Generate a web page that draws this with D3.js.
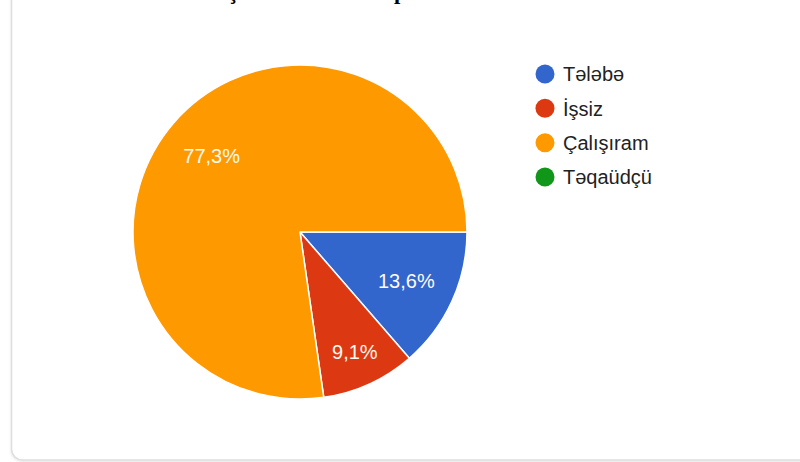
<!DOCTYPE html>
<html>
<head>
<meta charset="utf-8">
<script src="https://cdn.jsdelivr.net/npm/d3@7"></script>
<style>
  html, body { margin: 0; padding: 0; background: #ffffff; }
  svg { display: block; }
</style>
</head>
<body>
<svg id="chart" width="800" height="462"></svg>
<script>
// Response categories and their counts (22 responses in total)
const categories = ["Tələbə", "İşsiz", "Çalışıram", "Təqaüdçü"];
const counts = [3, 2, 17, 0];
const percentLabels = ["13,6%", "9,1%", "77,3%", "0%"];
const colors = ["#3366cc", "#dc3912", "#ff9900", "#109618"];
const titleText = "İş statusu üzrə respondentlər";

const svg = d3.select("#chart");

// Card panel behind the chart
const defs = svg.append("defs");
const shadow = defs.append("filter").attr("id", "cardShadow")
  .attr("x", "-5%").attr("y", "-5%").attr("width", "110%").attr("height", "110%");
shadow.append("feGaussianBlur").attr("in", "SourceAlpha").attr("stdDeviation", 1.2);
shadow.append("feOffset").attr("dx", 0).attr("dy", 0.5).attr("result", "blur");
shadow.append("feFlood").attr("flood-color", "#000").attr("flood-opacity", 0.12);
shadow.append("feComposite").attr("in2", "blur").attr("operator", "in");
const merge = shadow.append("feMerge");
merge.append("feMergeNode");
merge.append("feMergeNode").attr("in", "SourceGraphic");

svg.append("rect")
  .attr("x", 11.5).attr("y", -30)
  .attr("width", 830).attr("height", 490)
  .attr("rx", 11)
  .attr("fill", "#ffffff")
  .attr("stroke", "#dedede")
  .attr("stroke-width", 1.5)
  .attr("filter", "url(#cardShadow)");

// Heading sitting above the card, mostly outside the view
svg.append("text")
  .attr("x", 220).attr("y", -1.5)
  .attr("font-family", "'Liberation Serif', 'Times New Roman', serif")
  .attr("font-weight", "bold")
  .attr("font-size", 22.5)
  .attr("fill", "#000")
  .text(titleText);

// Pie
const cx = 300, cy = 232, R = 167;
const pie = d3.pie()
  .value(d => d)
  .sort(null)
  .startAngle(Math.PI / 2)
  .endAngle(Math.PI / 2 + 2 * Math.PI);
const arcs = pie(counts);
const arc = d3.arc().innerRadius(0).outerRadius(R);

const g = svg.append("g").attr("transform", `translate(${cx},${cy})`);
g.selectAll("path.slice")
  .data(arcs.filter(a => a.value > 0))
  .join("path")
  .attr("class", "slice")
  .attr("d", arc)
  .attr("fill", d => colors[d.index])
  .attr("stroke", "#ffffff")
  .attr("stroke-width", 1.5)
  .attr("stroke-linejoin", "round");

// Percentage labels inside the slices; narrow slices push the label outward
g.selectAll("text.pct")
  .data(arcs.filter(a => a.value > 0))
  .join("text")
  .attr("class", "pct")
  .attr("transform", d => {
    const span = d.endAngle - d.startAngle;
    const rr = span < 0.65 ? R * 0.79 : R * 0.7;
    const a = (d.startAngle + d.endAngle) / 2;
    return `translate(${rr * Math.sin(a)},${-rr * Math.cos(a)})`;
  })
  .attr("text-anchor", "middle")
  .attr("dy", "0.36em")
  .attr("font-family", "'Liberation Sans', Arial, sans-serif")
  .attr("font-size", 20)
  .attr("fill", "#fffaf0")
  .text(d => percentLabels[d.index]);

// Legend
const legendY = d3.scalePoint().domain(categories).range([74, 177]);
const legend = svg.append("g");
const items = legend.selectAll("g.item")
  .data(categories)
  .join("g")
  .attr("class", "item")
  .attr("transform", d => `translate(545,${legendY(d)})`);
items.append("circle")
  .attr("r", 9.5)
  .attr("fill", (d, i) => colors[i]);
items.append("text")
  .attr("x", 18)
  .attr("dy", "0.36em")
  .attr("font-family", "'Liberation Sans', Arial, sans-serif")
  .attr("font-size", 20)
  .attr("fill", "#222222")
  .text(d => d);
</script>
</body>
</html>
